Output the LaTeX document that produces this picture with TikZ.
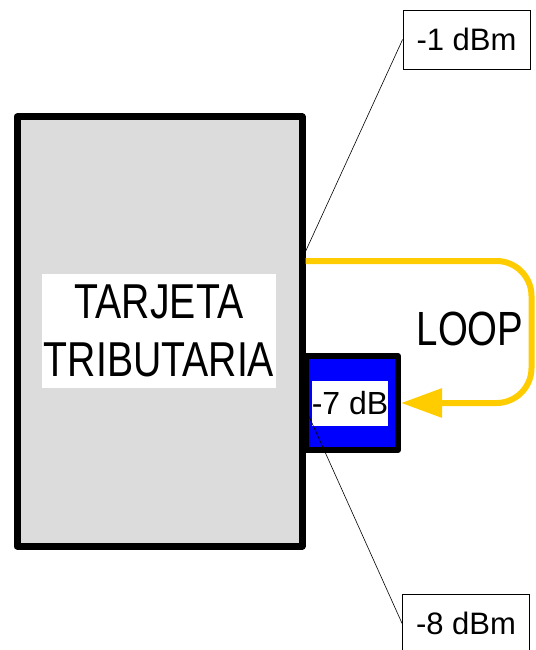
\documentclass[tikz,border=0pt]{standalone}
\usepackage{fontspec}
\setmainfont{Liberation Sans}
\newfontfamily\narrowfont[FakeStretch=0.8]{Liberation Sans}
\usetikzlibrary{arrows.meta}
\definecolor{card-gray}{HTML}{DCDCDC}
\definecolor{pad-blue}{HTML}{0000FF}
\definecolor{loop-yellow}{HTML}{FFCC00}

\begin{document}
\begin{tikzpicture}[
    x=1pt, y=-1pt,
    >=Stealth,
    card/.style={draw, fill=card-gray, line width=7pt, line join=round, inner sep=0pt},
    pad/.style={draw, fill=pad-blue, line width=6pt, line join=round, inner sep=0pt},
    tag/.style={fill=white, inner sep=0pt, align=center},
    meter/.style={draw, fill=white, line width=0.8pt, inner sep=0pt, minimum width=127pt, minimum height=59pt, font=\fontsize{31}{36}\selectfont},
    loopline/.style={draw=loop-yellow, line width=6pt, rounded corners=35pt, -{Triangle[length=41pt, width=28pt]}}
]
\useasboundingbox (0,0) rectangle (535,650);
\clip (0,0) rectangle (535,650);

\node[card, minimum width=285pt, minimum height=429pt] (card) at (159.5,331.5) {};
\node[tag, minimum width=234pt, minimum height=114pt, font=\narrowfont\fontsize{49}{58}\selectfont] (name) at (159,331) {TARJETA\\TRIBUTARIA};

\node[pad, minimum width=92pt, minimum height=94pt] (att) at (352,403) {};
\node[tag, minimum width=74pt, minimum height=45pt, font=\fontsize{32}{36}\selectfont] (attval) at (350,403.5) {-7 dB};

\draw[loopline] ([yshift=70.5pt]card.east) -- ++(226,0) |- (att.east);
\node[font=\narrowfont\fontsize{48}{58}\selectfont] (looplabel) at (470,329) {LOOP};

\node[meter] (pin) at (466.5,39.5) {-1 dBm};
\node[meter] (pout) at (466,623.5) {-8 dBm};

\draw[line width=0.6pt] ([yshift=80pt]card.east) -- (pin.west);
\draw[line width=0.6pt] (att.west) -- (pout.west);
\end{tikzpicture}
\end{document}
